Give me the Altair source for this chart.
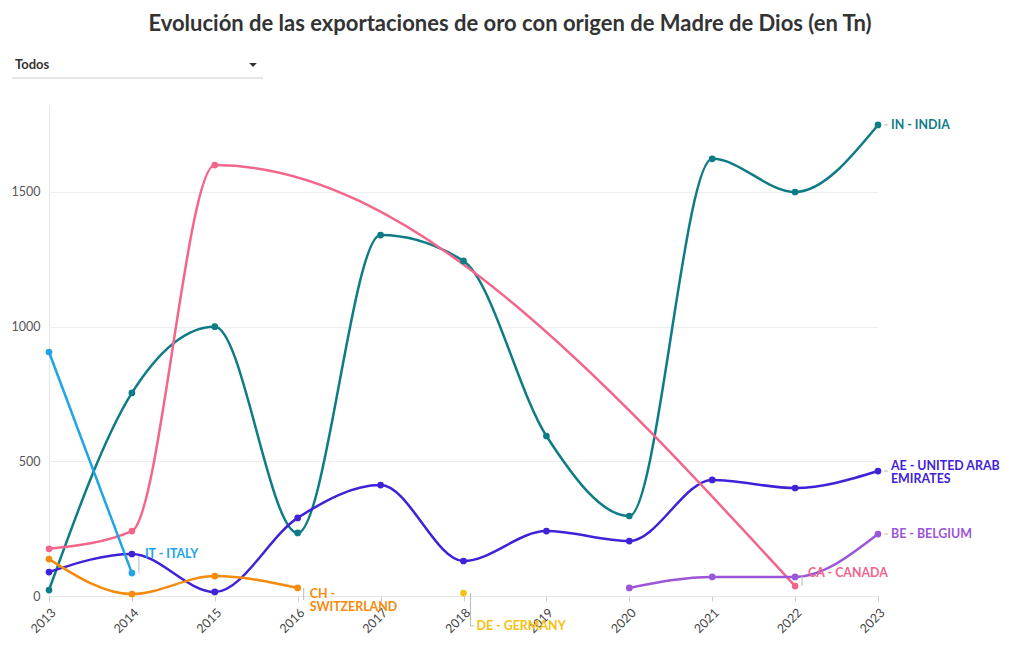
import altair as alt
import pandas as pd

years = list(range(2013, 2024))
series = ["IN - INDIA", "AE - UNITED ARAB EMIRATES", "CA - CANADA", "IT - ITALY",
          "CH - SWITZERLAND", "DE - GERMANY", "BE - BELGIUM"]
labels = ["IN - INDIA", "AE - UNITED ARAB\nEMIRATES", "CA - CANADA", "IT - ITALY",
          "CH -\nSWITZERLAND", "DE - GERMANY", "BE - BELGIUM"]
colors = ["#0E7C86", "#3F22D8", "#F2668B", "#20A4E4", "#F58A0B", "#F5C10E", "#9A55D8"]

N = None
india = [22, 754, 1000, 234, 1340, 1244, 594, 297, 1623, 1500, 1749]
uae = [89, 156, 15, 290, 412, 130, 241, 204, 431, 401, 464]
canada = [175, 241, 1600, N, N, N, N, N, N, 37, N]
italy = [906, 85, N, N, N, N, N, N, N, N, N]
swiss = [137, 7, 74, 30, N, N, N, N, N, N, N]
germany = [N, N, N, N, N, 11, N, N, N, N, N]
belgium = [N, N, N, N, N, N, N, 30, 71, 71, 230]
values = [india, uae, canada, italy, swiss, germany, belgium]

rows = []
for s, lab, vals in zip(series, labels, values):
    for y, v in zip(years, vals):
        if v is not None:
            rows.append({"serie": s, "label": lab, "year": y, "value": v})
df = pd.DataFrame(rows)
last = df.sort_values("year").groupby("serie", as_index=False).last()

FONT = "Lato"
x_enc = alt.X("year:Q", scale=alt.Scale(domain=[2013, 2023], nice=False, zero=False),
              axis=alt.Axis(values=years, format="d", labelAngle=315, labelFontSize=12.5,
                            labelColor="#444", labelFont=FONT, title=None, grid=False,
                            domain=True, domainColor="#e6e6e6", tickColor="#cccccc",
                            tickSize=5, labelPadding=5))
y_enc = alt.Y("value:Q", scale=alt.Scale(domain=[0, 1823], nice=False),
              axis=alt.Axis(values=[0, 500, 1000, 1500], format="d", labelFontSize=12.5,
                            labelColor="#555", labelFont=FONT, title=None, grid=True,
                            gridColor="#eeeeee", ticks=False, domain=True,
                            domainColor="#e6e6e6", labelPadding=9))
color_enc = alt.Color("serie:N", scale=alt.Scale(domain=series, range=colors), legend=None)

base = alt.Chart(df)
lines = base.mark_line(interpolate="monotone", strokeWidth=2.5).encode(
    x=x_enc, y=y_enc, color=color_enc, detail="serie:N")
points = base.mark_circle(size=45, opacity=1).encode(
    x="year:Q", y="value:Q", color=color_enc)

# label offsets (dx, dy) and connector offsets (x1, x2, y1, y2) per series
label_style = {
    "IN - INDIA": (13, 0, 6, 10, 0, 0),
    "AE - UNITED ARAB EMIRATES": (13, -5, 6, 10, 0, 0),
    "BE - BELGIUM": (13, 0, 6, 10, 0, 0),
    "CA - CANADA": (13, -13, 7, 7, -11, 0),
    "IT - ITALY": (13, -19, 7, 7, -17, 0),
    "CH - SWITZERLAND": (12, 6, 6, 6, 0, 12),
    "DE - GERMANY": (13, 33, 7, 7, 0, 33),
}
layers = [lines, points]
for s in series:
    dx, dy, x1, x2, y1, y2 = label_style[s]
    sub = alt.Chart(last).transform_filter(alt.datum.serie == s)
    layers.append(sub.mark_rule(color="#bbbbbb", strokeWidth=1, xOffset=x1, x2Offset=x2,
                                yOffset=y1, y2Offset=y2).encode(
        x="year:Q", x2="year:Q", y="value:Q", y2="value:Q"))
    if s == "DE - GERMANY":
        layers.append(sub.mark_rule(color="#bbbbbb", strokeWidth=1, xOffset=7, x2Offset=11,
                                    yOffset=33, y2Offset=33).encode(
            x="year:Q", x2="year:Q", y="value:Q", y2="value:Q"))
    layers.append(sub.mark_text(align="left", baseline="middle", dx=dx, dy=dy, fontSize=12.4,
                                fontWeight="bold", font=FONT, lineBreak="\n",
                                lineHeight=13).encode(
        x="year:Q", y="value:Q", text="label:N", color=color_enc))

one = alt.Data(values=[{"a": 1}])
title = alt.Chart(one).mark_text(text="Evolución de las exportaciones de oro con origen de Madre de Dios (en Tn)",
                                 fontSize=22, fontWeight="bold", font=FONT, color="#333333",
                                 align="center", baseline="middle").encode(
    x=alt.value(461), y=alt.value(-81))
todos = alt.Chart(one).mark_text(text="Todos", fontSize=13, fontWeight="bold", font=FONT,
                                 color="#333333", align="left", baseline="middle").encode(
    x=alt.value(-34), y=alt.value(-40))
underline = alt.Chart(one).mark_rule(color="#cccccc", strokeWidth=1).encode(
    x=alt.value(-37), x2=alt.value(214), y=alt.value(-27))
arrow = alt.Chart(one).mark_point(shape="M-1,-0.5L1,-0.5L0,0.5Z", filled=True, size=60,
                                  color="#333333", opacity=1, strokeWidth=0).encode(
    x=alt.value(204), y=alt.value(-40))

chart = alt.layer(*layers, title, todos, underline, arrow).properties(
    width=829, height=491,
    background="white",
    autosize=alt.AutoSizeParams(type="none"),
    padding={"left": 49, "top": 105, "right": 142, "bottom": 54},
).configure_view(stroke=None, strokeWidth=0)

chart.save("out.html", embed_options={"renderer": "svg", "actions": False})
